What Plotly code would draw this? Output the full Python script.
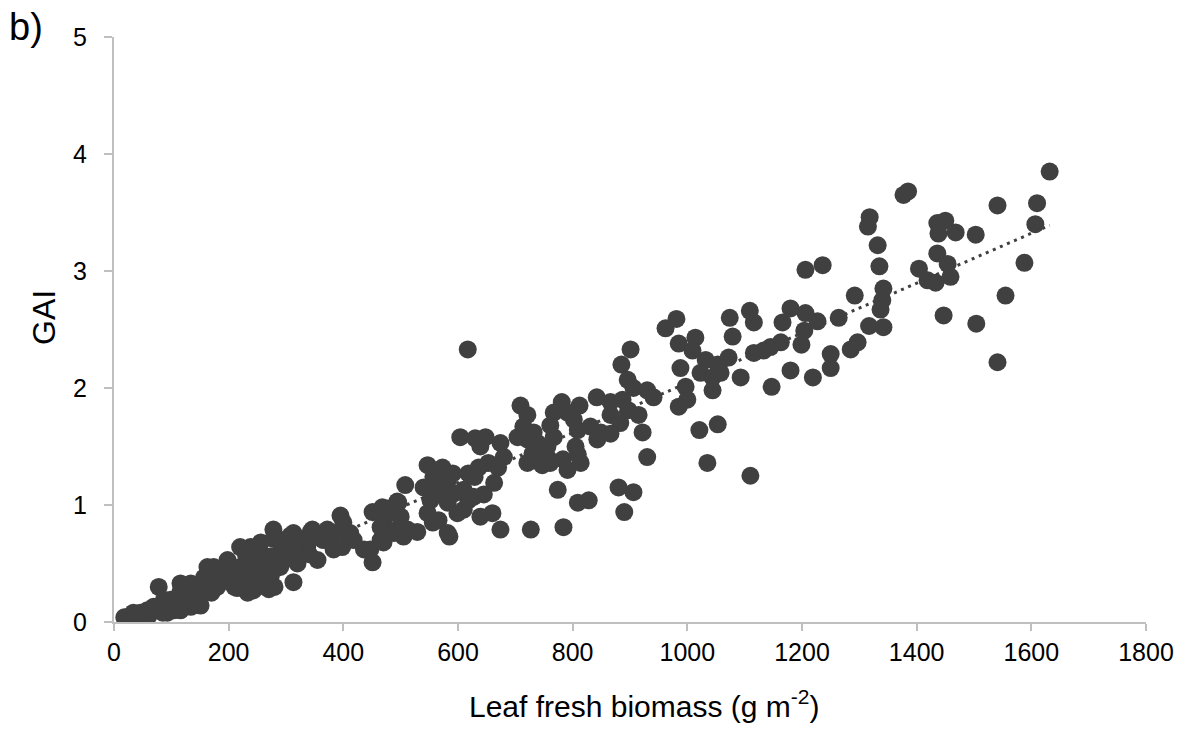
import numpy as np
import plotly.graph_objects as go

# Leaf fresh biomass (g m-2)
biomass = [
    1632, 1541, 1610, 1607, 1503, 1468, 1450, 1436, 1438, 1436, 1454, 1459, 1433, 1588, 1555, 1447, 1504, 1541,
    1385, 1377, 1318, 1315, 1332,
    1206, 1236, 1335, 1404, 1419,
    1292, 1342, 1340, 1337, 1317, 1342, 1297, 1285, 1264, 1227, 1206, 1180, 1166, 1204, 1199, 1163, 1145, 1133,
    1116, 1109, 1116, 1074, 1079, 1093, 1180, 1147, 1219, 1250, 1250,
    962, 981, 985, 1014, 1009, 988, 1032, 1053, 1072, 1023, 1044, 1058, 1044, 997, 1000, 985, 1021, 1053, 1035, 1110,
    617, 901, 885, 896, 906, 930, 941, 887, 897, 915, 866, 883, 842, 866, 831, 849, 843, 866, 922, 930, 880, 906, 890,
    781, 812, 767, 761, 767, 791, 802, 809, 805, 809, 814, 783, 756, 761, 791,
    709, 721, 714, 704, 721, 732, 739, 745, 730, 721, 747, 756, 774, 809, 828, 784, 727,
    674, 680, 670, 653, 663, 636, 629, 618,
    604, 630, 648, 639,
    645, 627, 618, 610, 639, 660, 674, 585,
    547, 573, 557, 582, 591, 570, 593, 610,
    540, 552, 566, 582, 599,
    508, 494, 477, 500, 512, 529, 547, 556, 566, 582, 477, 465, 470,
    451, 468, 496, 482, 465, 470, 494, 505, 395, 400, 412, 418, 383, 436, 451, 383, 365, 346, 355, 337,
    313, 278, 296, 308, 313, 256, 243, 261, 285, 273,
    447, 488, 407, 398, 372, 349, 326, 314, 343, 308, 290, 273, 256, 238, 290, 267, 250, 226, 233, 243, 256, 267,
    220, 233, 220, 209, 198, 186, 174, 163, 157, 169, 151, 134, 122, 116, 111, 99, 139, 134, 116, 78, 87, 69, 58,
    46, 34, 22, 18, 52, 93, 104,
    200, 180, 150, 125, 170, 190, 210, 240, 260, 280, 300, 320, 340, 60, 75, 40, 30, 85, 110, 130, 160, 230, 250,
    270, 280, 278, 241, 198, 169, 116, 34, 151, 215, 256,
]

# Green area index
gai = [
    3.85, 3.56, 3.58, 3.40, 3.31, 3.33, 3.43, 3.41, 3.32, 3.15, 3.06, 2.95, 2.90, 3.07, 2.79, 2.62, 2.55, 2.22,
    3.68, 3.65, 3.46, 3.38, 3.22,
    3.01, 3.05, 3.04, 3.02, 2.92,
    2.79, 2.85, 2.75, 2.67, 2.53, 2.52, 2.39, 2.33, 2.60, 2.57, 2.64, 2.68, 2.56, 2.49, 2.37, 2.39, 2.35, 2.32,
    2.30, 2.66, 2.56, 2.60, 2.44, 2.09, 2.15, 2.01, 2.09, 2.29, 2.17,
    2.51, 2.59, 2.38, 2.43, 2.32, 2.17, 2.24, 2.20, 2.26, 2.13, 2.09, 2.13, 1.98, 2.01, 1.90, 1.84, 1.64, 1.69, 1.36, 1.25,
    2.33, 2.33, 2.20, 2.07, 2.00, 1.98, 1.92, 1.90, 1.81, 1.77, 1.77, 1.70, 1.92, 1.88, 1.67, 1.62, 1.56, 1.61, 1.62, 1.41, 1.15, 1.11, 0.94,
    1.88, 1.85, 1.79, 1.68, 1.58, 1.79, 1.73, 1.64, 1.50, 1.43, 1.36, 1.39, 1.41, 1.36, 1.30,
    1.85, 1.77, 1.67, 1.58, 1.56, 1.62, 1.53, 1.44, 1.44, 1.36, 1.34, 1.50, 1.13, 1.02, 1.04, 0.81, 0.79,
    1.53, 1.41, 1.32, 1.36, 1.19, 1.32, 1.24, 1.27,
    1.58, 1.57, 1.58, 1.50,
    1.09, 1.07, 1.04, 0.96, 0.90, 0.93, 0.79, 0.73,
    1.34, 1.32, 1.24, 1.21, 1.27, 1.15, 1.10, 1.13,
    1.15, 1.04, 1.10, 1.02, 0.93,
    1.17, 1.03, 0.97, 0.90, 0.79, 0.77, 0.93, 0.85, 0.87, 0.76, 0.79, 0.70, 0.90,
    0.94, 0.98, 1.02, 0.93, 0.81, 0.68, 0.79, 0.73, 0.91, 0.85, 0.76, 0.70, 0.76, 0.62, 0.51, 0.62, 0.70, 0.79, 0.53, 0.64,
    0.76, 0.79, 0.70, 0.62, 0.34, 0.68, 0.56, 0.44, 0.50, 0.38,
    0.62, 0.76, 0.76, 0.64, 0.79, 0.73, 0.68, 0.62, 0.77, 0.74, 0.59, 0.56, 0.59, 0.64, 0.47, 0.42, 0.47, 0.36, 0.25, 0.27, 0.33, 0.36,
    0.64, 0.53, 0.47, 0.42, 0.53, 0.44, 0.47, 0.47, 0.38, 0.36, 0.30, 0.33, 0.27, 0.33, 0.21, 0.19, 0.19, 0.13, 0.10, 0.30, 0.19, 0.13, 0.10,
    0.08, 0.08, 0.04, 0.04, 0.04, 0.08, 0.10,
    0.40, 0.30, 0.22, 0.18, 0.25, 0.35, 0.30, 0.40, 0.50, 0.45, 0.55, 0.50, 0.58, 0.05, 0.12, 0.05, 0.03, 0.08, 0.14, 0.22, 0.30, 0.58, 0.30,
    0.28, 0.30, 0.71, 0.62, 0.48, 0.39, 0.26, 0.07, 0.14, 0.29, 0.33,
]

x_ticks = [0, 200, 400, 600, 800, 1000, 1200, 1400, 1600, 1800]
y_ticks = [0, 1, 2, 3, 4, 5]

bx = np.array(biomass, dtype=float)
gy = np.array(gai, dtype=float)
slope, intercept = np.polyfit(bx, gy, 1)
trend_x = np.array([bx.min(), bx.max()])
trend_y = slope * trend_x + intercept

DARK = "#404040"
AXIS = "#bfbfbf"
FONT = "Liberation Sans, Arial, sans-serif"

fig = go.Figure()
fig.add_trace(go.Scatter(
    x=bx, y=gy, mode="markers",
    marker=dict(size=18, color=DARK, line=dict(width=0)),
    showlegend=False, hoverinfo="skip",
))
fig.add_trace(go.Scatter(
    x=trend_x, y=trend_y, mode="lines",
    line=dict(color=DARK, width=3, dash="3px,4.7px"),
    showlegend=False, hoverinfo="skip",
))

fig.update_layout(
    width=1190, height=731,
    margin=dict(l=114, r=44, t=37, b=109),
    paper_bgcolor="white", plot_bgcolor="white",
    font=dict(family=FONT, color="black", size=25),
    xaxis=dict(
        range=[0, 1800], tickvals=x_ticks, ticktext=[str(v) for v in x_ticks],
        showgrid=False, zeroline=False, showline=True, linecolor=AXIS, linewidth=2,
        ticks="outside", ticklen=7, tickwidth=2, tickcolor=AXIS,
        tickfont=dict(size=25, family=FONT, color="black"), ticklabelstandoff=0,
    ),
    yaxis=dict(
        range=[0, 5], tickvals=y_ticks, ticktext=[str(v) for v in y_ticks],
        showgrid=False, zeroline=False, showline=True, linecolor=AXIS, linewidth=2,
        ticks="outside", ticklen=8, tickwidth=2, tickcolor=AXIS,
        tickfont=dict(size=25, family=FONT, color="black"), ticklabelstandoff=12,
    ),
    annotations=[
        dict(text="Leaf fresh biomass (g m<sup>-2</sup>)", xref="paper", yref="paper",
             x=(644 - 114) / 1032, y=(622 - 704) / 585, xanchor="center", yanchor="middle",
             showarrow=False, font=dict(size=30, family=FONT, color="black")),
        dict(text="GAI", xref="paper", yref="paper",
             x=(44 - 114) / 1032, y=(622 - 318) / 585, xanchor="center", yanchor="middle",
             textangle=-90, showarrow=False, font=dict(size=32, family=FONT, color="black")),
        dict(text="b)", xref="paper", yref="paper",
             x=(7 - 114) / 1032, y=(622 - 4) / 585, xanchor="left", yanchor="top",
             showarrow=False, font=dict(size=38, family=FONT, color="black")),
    ],
)

fig.write_html("out.html")
